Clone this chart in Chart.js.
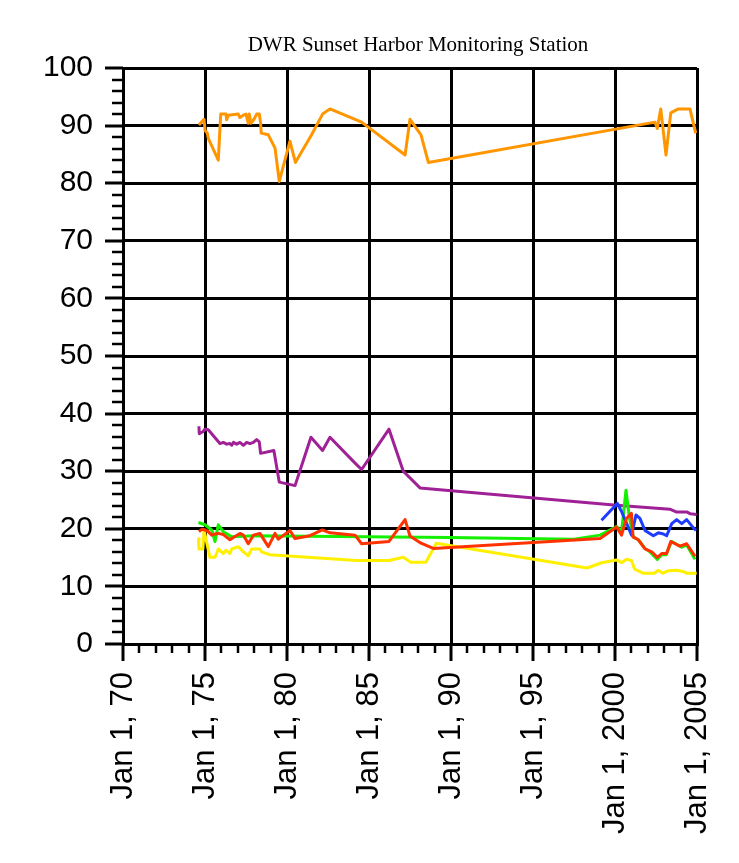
<!DOCTYPE html>
<html>
<head>
<meta charset="utf-8">
<script src="https://cdn.jsdelivr.net/npm/chart.js@4/dist/chart.umd.min.js"></script>
<style>
html,body{margin:0;padding:0;background:#fff;}
#wrap{width:739px;height:863px;}
</style>
</head>
<body>
<div id="wrap"><canvas id="c" width="739" height="863"></canvas></div>
<script>
// ---- data (decimal years, values) ----
const titleText = 'DWR Sunset Harbor Monitoring Station';
const xTickLabels = ['Jan 1, 70','Jan 1, 75','Jan 1, 80','Jan 1, 85','Jan 1, 90','Jan 1, 95','Jan 1, 2000','Jan 1, 2005'];

const orangeX = [1974.63,1974.94,1975.0,1975.14,1975.2,1975.81,1975.96,1976.28,1976.32,1976.42,1977.03,1977.13,1977.34,1977.5,1977.64,1977.70,1977.80,1977.99,1978.15,1978.31,1978.39,1978.43,1978.86,1979.27,1979.53,1980.18,1980.51,1981.5,1982.17,1982.62,1984.55,1987.2,1987.5,1988.17,1988.62,2002.44,2002.58,2002.79,2003.11,2003.4,2003.86,2004.57,2004.92];
const orangeY = [90.1,91.1,89.2,88.7,87.8,84.0,92.0,92.0,91.0,91.8,92.0,91.4,91.8,92.0,90.4,92.0,90.4,91.1,92.0,92.0,90.4,88.7,88.4,86.1,80.3,87.3,83.6,88.4,92.0,92.9,90.6,84.9,91.1,88.4,83.6,90.6,89.5,92.9,84.9,92.2,92.9,92.9,88.7];

const purpleX = [1974.63,1974.65,1974.89,1974.99,1975.2,1975.91,1976.12,1976.32,1976.52,1976.63,1976.73,1976.93,1977.13,1977.34,1977.54,1977.74,1977.95,1978.15,1978.31,1978.39,1979.2,1979.53,1980.49,1981.46,1982.17,1982.62,1984.15,1984.55,1986.22,1987.09,1988.11,2000.1,2003.35,2003.76,2004.4,2004.6,2004.98];
const purpleY = [37.8,36.5,36.9,37.3,37.2,34.8,35.0,34.7,34.8,34.5,35.0,34.7,35.0,34.5,35.0,34.8,35.0,35.5,35.1,33.1,33.6,28.1,27.5,35.9,33.6,35.9,31.4,30.3,37.3,30.0,27.1,24.1,23.4,22.9,22.9,22.6,22.5];

const blueX = [1999.18,2000.14,2000.4,2001.01,2001.28,2001.52,2001.83,2002.34,2002.64,2002.95,2003.15,2003.46,2003.76,2004.07,2004.37,2004.68,2004.94];
const blueY = [21.5,24.4,23.0,18.9,22.4,21.8,19.7,18.8,19.3,19.1,18.8,20.9,21.6,20.9,21.6,20.5,19.7];

const greenX = [1974.6,1975.0,1975.41,1975.61,1975.81,1976.12,1976.63,1978.0,1989.94,1997.5,1999.09,2000.1,2000.4,2000.67,2000.87,2001.11,2001.42,2001.83,2002.13,2002.58,2002.85,2003.11,2003.46,2004.07,2004.37,2004.88];
const greenY = [21.1,20.7,19.8,17.8,20.7,19.5,18.6,18.8,18.5,18.2,18.9,20.4,19.5,26.7,22.1,18.6,18.1,16.6,16.0,14.7,15.5,15.5,17.8,16.8,17.2,14.7];

const redX = [1974.63,1974.8,1975.0,1975.2,1975.41,1975.61,1975.81,1976.12,1976.52,1976.73,1977.13,1977.34,1977.64,1977.95,1978.35,1978.86,1979.27,1979.47,1980.18,1980.49,1981.4,1982.15,1982.62,1984.15,1984.55,1986.22,1987.2,1987.5,1988.17,1988.92,1999.09,2000.1,2000.4,2000.7,2001.0,2001.1,2001.42,2001.83,2002.24,2002.58,2002.85,2003.15,2003.4,2003.96,2004.37,2004.88];
const redY = [19.5,19.9,19.8,19.5,18.9,19.1,19.2,19.0,18.1,18.5,19.2,18.9,17.4,18.9,19.2,16.9,19.2,18.2,19.7,18.3,18.8,19.8,19.3,18.9,17.4,17.8,21.6,18.75,17.5,16.6,18.3,20.3,18.9,21.8,22.7,18.6,18.1,16.5,16.0,15.05,15.7,15.7,17.8,17.0,17.4,15.2];

const yellowX = [1974.6,1974.63,1974.87,1974.94,1975.3,1975.61,1975.81,1976.12,1976.28,1976.52,1976.63,1977.03,1977.34,1977.64,1977.84,1978.35,1978.45,1978.96,1984.25,1986.22,1987.09,1987.54,1988.47,1989.1,1998.3,1999.18,2000.1,2000.4,2000.7,2001.0,2001.2,2001.71,2002.42,2002.62,2002.93,2003.23,2003.74,2004.15,2004.35,2004.98];
const yellowY = [18.3,16.5,16.5,19.8,15.05,15.05,16.5,15.7,16.3,15.7,16.5,16.9,16.0,15.3,16.5,16.5,16.0,15.5,14.5,14.5,15.05,14.2,14.2,17.5,13.2,14.1,14.6,14.1,14.7,14.5,13.0,12.3,12.3,12.8,12.3,12.7,12.8,12.6,12.3,12.3];

function pts(xs, ys){ return xs.map((x,i)=>({x:x, y:ys[i]})); }

function ds(xs, ys, color){
  return {data: pts(xs, ys), borderColor: color, backgroundColor: color, borderWidth: 3,
          pointRadius: 0, tension: 0, fill: false, borderJoinStyle: 'round'};
}

const tickPlugin = {
  id: 'tickMarks',
  afterDraw(chart){
    const ctx = chart.ctx, xs = chart.scales.x, ys = chart.scales.y, ca = chart.chartArea;
    ctx.save();
    ctx.strokeStyle = '#000';
    ctx.lineCap = 'butt';
    for (let v = ys.min; v <= ys.max; v += 2){
      const p = Math.round(ys.getPixelForValue(v));
      const major = v % 10 === 0;
      ctx.lineWidth = major ? 3 : 2.5;
      ctx.beginPath();
      ctx.moveTo(ca.left - (major ? 18 : 11), p);
      ctx.lineTo(ca.left, p);
      ctx.stroke();
    }
    for (let yr = xs.min; yr <= xs.max; yr += 1){
      const p = Math.round(xs.getPixelForValue(yr));
      const major = (yr - xs.min) % 5 === 0;
      ctx.lineWidth = major ? 3 : 2.5;
      ctx.beginPath();
      ctx.moveTo(p, ca.bottom);
      ctx.lineTo(p, ca.bottom + (major ? 17 : 9));
      ctx.stroke();
    }
    ctx.fillStyle = '#000';
    ctx.font = '21px "Liberation Serif", "Times New Roman", serif';
    ctx.textAlign = 'center';
    ctx.textBaseline = 'middle';
    ctx.fillText(titleText, 418, 45);
    ctx.restore();
  }
};

const yTickFont = {family: '"Liberation Sans", Arial, Helvetica, sans-serif', size: 30};
const xTickFont = {family: '"Liberation Sans", Arial, Helvetica, sans-serif', size: 31};

new Chart(document.getElementById('c'), {
  type: 'line',
  data: {
    datasets: [
      ds(redX, redY, 'rgb(255,50,0)'),
      ds(blueX, blueY, 'rgb(30,60,255)'),
      ds(greenX, greenY, 'rgb(20,240,0)'),
      ds(yellowX, yellowY, 'rgb(255,240,0)'),
      ds(purpleX, purpleY, 'rgb(160,32,150)'),
      ds(orangeX, orangeY, 'rgb(255,150,0)')
    ]
  },
  options: {
    responsive: false,
    animation: false,
    layout: {padding: {left: 0, right: 42, top: 68, bottom: 0}},
    plugins: {legend: {display: false}, tooltip: {enabled: false}, title: {display: false}},
    scales: {
      x: {
        type: 'linear', min: 1970, max: 2005,
        afterFit(s){ s.height = 219; s.paddingLeft = 0; s.paddingRight = 0; },
        ticks: {stepSize: 5, autoSkip: false, minRotation: 90, maxRotation: 90, padding: 28,
                color: '#000', font: xTickFont,
                callback: (v, i) => xTickLabels[i]},
        grid: {color: '#000', lineWidth: 3, drawTicks: false},
        border: {display: true, color: '#000', width: 3}
      },
      y: {
        min: 0, max: 100,
        afterFit(s){ s.width = 123; s.paddingTop = 0; s.paddingBottom = 0; },
        ticks: {stepSize: 10, padding: 30, color: '#000', font: yTickFont},
        grid: {color: '#000', lineWidth: 3, drawTicks: false},
        border: {display: true, color: '#000', width: 3}
      }
    }
  },
  plugins: [tickPlugin]
});
</script>
</body>
</html>
